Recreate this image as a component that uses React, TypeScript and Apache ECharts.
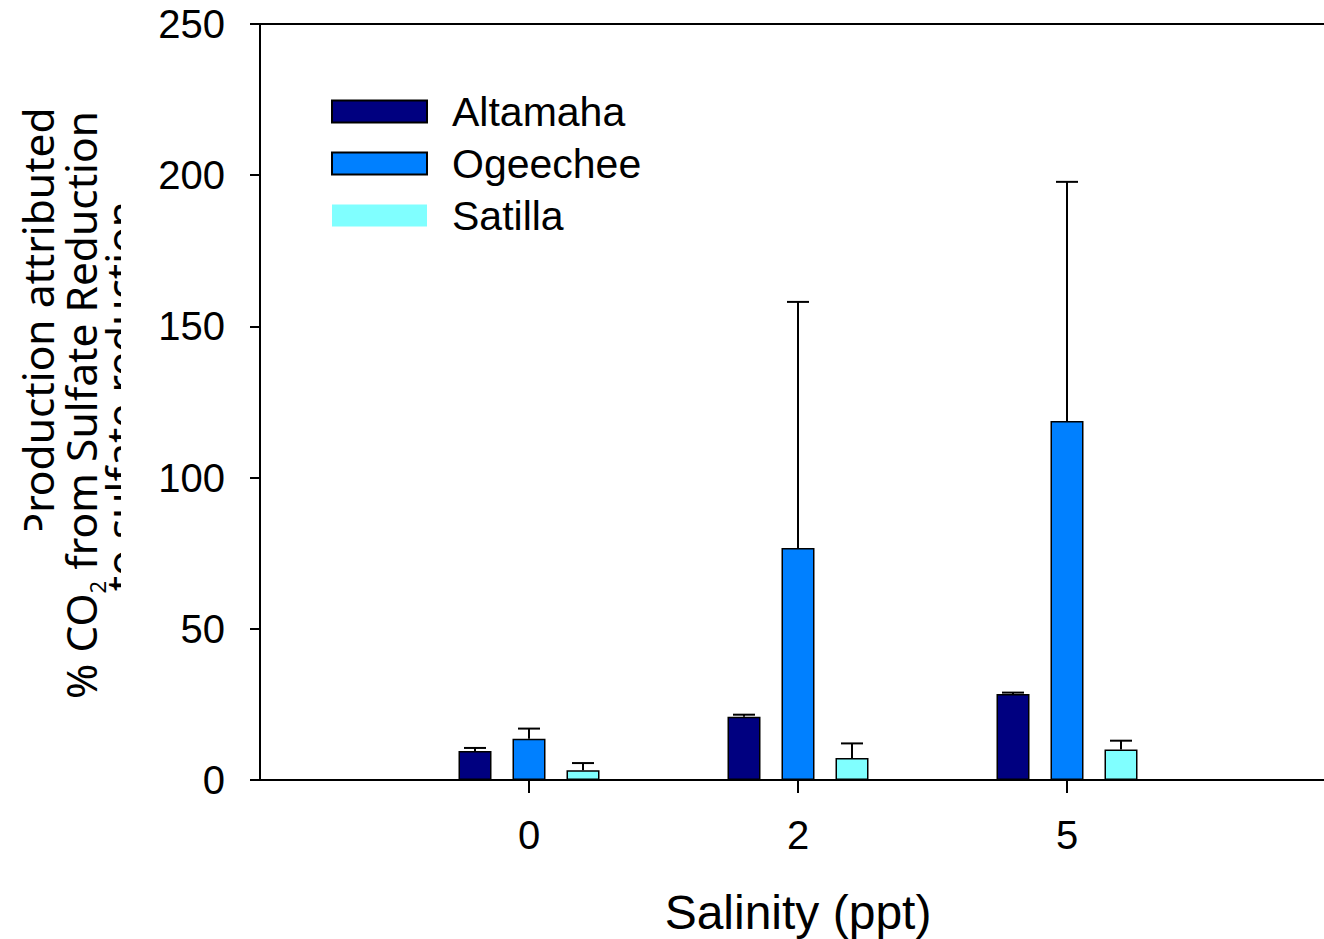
import React, { useEffect, useRef } from "react";
import * as echarts from "echarts";

const salinity = ["0", "2", "5"];
const altamaha = [9.6, 20.9, 28.4];
const altamahaErr = [1.0, 0.7, 0.5];
const ogeechee = [13.6, 76.7, 118.7];
const ogeecheeErr = [3.4, 81.4, 79.1];
const satilla = [3.2, 7.3, 10.1];
const satillaErr = [2.4, 4.8, 2.9];
const seriesNames = ["Altamaha", "Ogeechee", "Satilla"];
const colors = ["#000080", "#0080FF", "#80FFFF"];

const Y_MIN = 0;
const Y_MAX = 250;
const Y_INTERVAL = 50;

const BAR_W = 33;
const BAR_GAP = 21;

const FONT = "'Liberation Sans', Arial, sans-serif";
const LABEL_FONT = "'Noto Sans', 'Open Sans', sans-serif";

export default function App() {
  const ref = useRef<HTMLDivElement>(null);

  useEffect(() => {
    if (!ref.current) return;
    const chart = echarts.init(ref.current, null, { renderer: "svg" });
    const categories = ["", ...salinity, ""];
    const values = [altamaha, ogeechee, satilla];
    const errs = [altamahaErr, ogeecheeErr, satillaErr];

    const barSeries = seriesNames.map((name, i) => ({
      name,
      type: "bar",
      barWidth: BAR_W,
      barGap: `${(BAR_GAP / BAR_W) * 100}%`,
      data: [null, ...values[i], null],
      itemStyle: { color: colors[i], borderColor: "#000", borderWidth: 1.5 },
      z: 2,
    }));

    const errSeries = seriesNames.map((name, i) => ({
      name: name + " error",
      type: "custom",
      z: 3,
      data: values[i].map((v, j) => [j + 1, v, errs[i][j]]),
      encode: { x: 0, y: 1 },
      renderItem: (params: any, api: any) => {
        const c = api.value(0);
        const v = api.value(1);
        const e = api.value(2);
        const p0 = api.coord([c, v]);
        const p1 = api.coord([c, v + e]);
        const x = p0[0] + (i - 1) * (BAR_W + BAR_GAP);
        const half = 11;
        return {
          type: "group",
          children: [
            {
              type: "line",
              shape: { x1: x, y1: p0[1], x2: x, y2: p1[1] },
              style: { stroke: "#000", lineWidth: 2 },
            },
            {
              type: "line",
              shape: { x1: x - half, y1: p1[1], x2: x + half, y2: p1[1] },
              style: { stroke: "#000", lineWidth: 2 },
            },
          ],
        };
      },
    }));

    chart.setOption({
      animation: false,
      backgroundColor: "#fff",
      grid: {
        left: 260,
        top: 24,
        width: 1076,
        height: 756,
        show: true,
        borderColor: "#000",
        borderWidth: 2,
        containLabel: false,
        outerBoundsMode: "none",
      },
      legend: {
        orient: "vertical",
        left: 331,
        top: 91,
        padding: 0,
        itemWidth: 95,
        itemHeight: 22,
        itemGap: 11,
        icon: "rect",
        textStyle: {
          fontFamily: FONT,
          fontSize: 41,
          color: "#000",
          lineHeight: 22,
          padding: [0, 0, 0, 20],
        },
        data: [
          { name: "Altamaha" },
          { name: "Ogeechee" },
          { name: "Satilla", itemStyle: { borderWidth: 0 } },
        ],
      },
      xAxis: {
        type: "category",
        data: categories,
        boundaryGap: false,
        name: "Salinity (ppt)",
        nameLocation: "middle",
        nameGap: 108,
        nameTextStyle: { fontFamily: FONT, fontSize: 48, color: "#000" },
        axisLine: { show: true, lineStyle: { color: "#000", width: 2 } },
        axisTick: {
          show: true,
          length: 13,
          inside: false,
          interval: (idx: number) => idx >= 1 && idx <= salinity.length,
          lineStyle: { color: "#000", width: 2 },
        },
        axisLabel: {
          fontFamily: FONT,
          fontSize: 40,
          color: "#000",
          margin: 35,
          interval: 0,
        },
        splitLine: { show: false },
      },
      yAxis: {
        type: "value",
        min: Y_MIN,
        max: Y_MAX,
        interval: Y_INTERVAL,
        axisLine: { show: true, lineStyle: { color: "#000", width: 2 } },
        axisTick: { show: true, length: 10, lineStyle: { color: "#000", width: 2 } },
        axisLabel: { fontFamily: FONT, fontSize: 40, color: "#000", margin: 35 },
        splitLine: { show: false },
      },
      graphic: [
        {
          type: "text",
          x: 37,
          y: 323,
          rotation: Math.PI / 2,
          style: {
            text: "Production attributed",
            fontFamily: LABEL_FONT,
            fontSize: 42.5,
            fill: "#000",
            align: "center",
            verticalAlign: "middle",
          },
        },
        {
          type: "text",
          x: 120,
          y: 396,
          rotation: Math.PI / 2,
          style: {
            text: "to sulfate reduction",
            fontFamily: LABEL_FONT,
            fontSize: 42.5,
            fill: "#000",
            align: "center",
            verticalAlign: "middle",
          },
        },
        {
          type: "rect",
          shape: { x: 5, y: 530, width: 55, height: 220 },
          style: { fill: "#fff" },
        },
        {
          type: "rect",
          shape: { x: 121, y: 100, width: 26, height: 620 },
          style: { fill: "#fff" },
        },
        {
          type: "text",
          x: 80,
          y: 405,
          rotation: Math.PI / 2,
          style: {
            text: "{n|% CO}{s|2}{n| from Sulfate Reduction}",
            align: "center",
            verticalAlign: "middle",
            rich: {
              n: {
                fontFamily: LABEL_FONT,
                fontSize: 42.5,
                fill: "#000",
                lineHeight: 56,
                verticalAlign: "middle",
              },
              s: {
                fontFamily: LABEL_FONT,
                fontSize: 22,
                fill: "#000",
                lineHeight: 22,
                verticalAlign: "bottom",
              },
            },
          },
        },
      ],
      series: [...barSeries, ...errSeries],
    });
    return () => chart.dispose();
  }, []);

  return (
    <div
      ref={ref}
      style={{ position: "absolute", left: 0, top: 0, width: 1324, height: 939, background: "#fff" }}
    />
  );
}
